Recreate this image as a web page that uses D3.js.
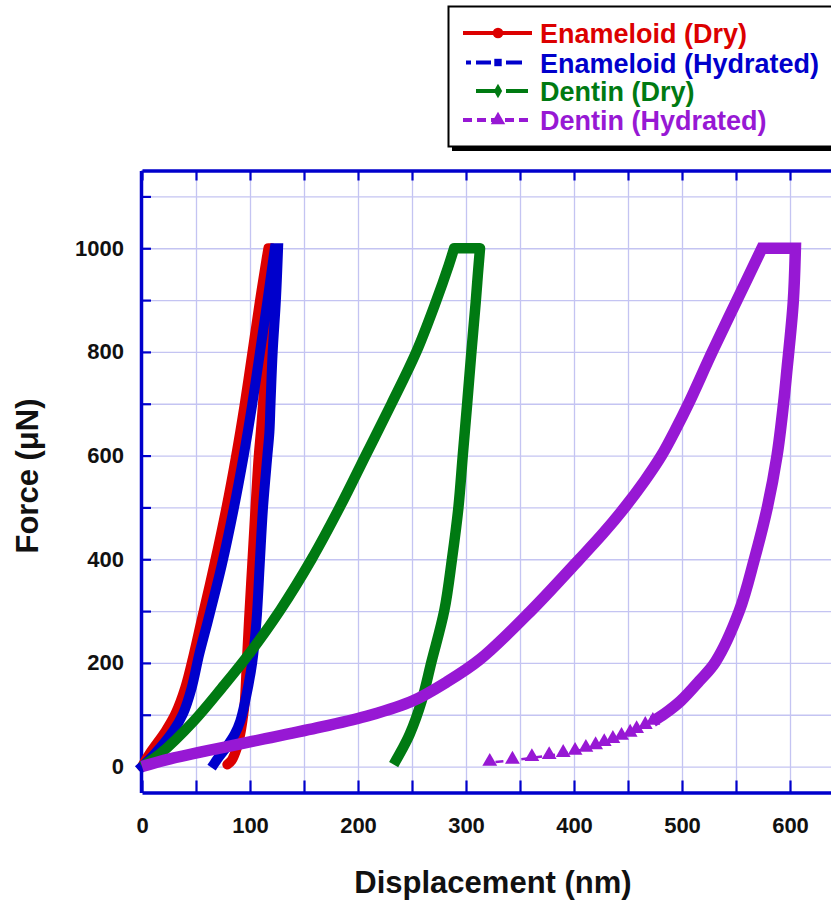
<!DOCTYPE html>
<html>
<head>
<meta charset="utf-8">
<script src="https://cdn.jsdelivr.net/npm/d3@7"></script>
<style>
  html, body { margin: 0; padding: 0; background: #ffffff; }
  svg { display: block; font-family: "Liberation Sans", Arial, sans-serif; }
</style>
</head>
<body>
<svg id="chart"></svg>
<script>
// displacement (nm), force (uN)
const enameloidDry = [
  [0, 0], [7, 25], [22, 69], [31, 102], [40, 152], [48, 217], [55, 281], [67, 390],
  [78, 498], [87, 598], [95, 698], [102, 796], [109, 896], [115, 975], [117, 1000],
  [120, 1000], [118, 900], [115, 800], [112, 700], [110, 646], [108, 598], [105, 498],
  [102, 390], [99, 281], [97, 200], [95, 121], [93, 88], [91, 63], [88, 37], [83, 12], [79, 4]
];
const enameloidHydrated = [
  [0, 0], [12, 25], [29, 69], [38, 102], [46, 152], [53, 217], [61, 281], [74, 390],
  [85, 498], [94, 598], [102, 698], [109, 796], [116, 896], [123, 1000], [126, 1000],
  [124, 900], [121, 800], [119, 700], [118, 646], [116, 598], [112, 498], [109, 390],
  [106, 281], [102, 200], [95, 121], [91, 88], [86, 63], [78, 37], [70, 15], [67, 6]
];
const dentinDry = [
  [0, 0], [17, 25], [48, 88], [74, 152], [99, 217], [128, 302], [157, 400], [183, 500],
  [207, 600], [231, 700], [254, 800], [272, 896], [284, 967], [289, 1000], [313, 1000],
  [311, 950], [309, 896], [305, 800], [301, 698], [297, 600], [293, 500], [287, 400],
  [280, 302], [268, 202], [259, 127], [248, 63], [240, 30], [233, 4]
];
const dentinHydrated = [
  [0, 0], [26, 15], [103, 49], [165, 76], [211, 99], [251, 127], [282, 163], [313, 207],
  [359, 298], [405, 400], [427, 450], [447, 500], [465, 550], [481, 600], [494, 650],
  [506, 700], [528, 800], [551, 900], [574, 1000], [605, 1000], [603, 896], [597, 762],
  [594, 700], [588, 600], [579, 500], [567, 400], [553, 300], [531, 202], [516, 165],
  [499, 127], [484, 102], [473, 87]
];
// sparse end of the hydrated dentin unloading, drawn as separate triangles
const dentinHydratedTail = [
  [473, 87], [466, 79], [458, 71], [452, 64], [444, 58], [436, 52], [428, 46], [420, 40],
  [411, 35], [401, 29], [390, 25], [377, 21], [361, 17], [343, 12], [322, 8]
];

const seriesNames = ["Enameloid (Dry)", "Enameloid (Hydrated)", "Dentin (Dry)", "Dentin (Hydrated)"];
const seriesColors = ["#dc0000", "#0000cc", "#007a12", "#9718d4"];

const xTicks = d3.range(0, 651, 50);
const yTicks = d3.range(0, 1101, 100);

const width = 831;
const height = 901;

const axisColor = "#0000cc";
const gridColor = "#c4c4f2";
const textColor = "#111111";

const svg = d3.select("#chart")
  .attr("width", width)
  .attr("height", height)
  .attr("viewBox", `0 0 ${width} ${height}`);

const x = d3.scaleLinear().domain([0, 650]).range([142, 844]);
const y = d3.scaleLinear().domain([-50, 1150]).range([792.5, 170.5]);

const plotTop = y(1150);
const plotBottom = y(-50);
const plotLeft = x(0);

// grid
svg.append("g")
  .attr("transform", `translate(0,${plotBottom})`)
  .call(d3.axisBottom(x).tickValues(xTicks.filter((d) => d > 0)).tickSize(-(plotBottom - plotTop)).tickFormat(""))
  .call((g) => g.select(".domain").remove())
  .call((g) => g.selectAll("line").attr("stroke", gridColor).attr("stroke-width", 1.3));

svg.append("g")
  .attr("transform", `translate(${plotLeft},0)`)
  .call(d3.axisLeft(y).tickValues(yTicks).tickSize(-(width - plotLeft + 20)).tickFormat(""))
  .call((g) => g.select(".domain").remove())
  .call((g) => g.selectAll("line").attr("stroke", gridColor).attr("stroke-width", 1.3));

// frame + ticks
const styleAxis = (g) => {
  g.select(".domain").attr("stroke", axisColor).attr("stroke-width", 3.5);
  g.selectAll(".tick line").attr("stroke", axisColor).attr("stroke-width", 2.2);
  g.selectAll("text")
    .attr("fill", textColor)
    .style("font-size", "22px")
    .style("font-weight", "bold");
};

svg.append("g")
  .attr("transform", `translate(0,${plotBottom})`)
  .call(d3.axisBottom(x).tickValues(xTicks).tickSize(-12).tickSizeOuter(0).tickPadding(25)
    .tickFormat((d) => (d % 100 === 0 ? d : "")))
  .call(styleAxis);

svg.append("g")
  .attr("transform", `translate(0,${plotTop})`)
  .call(d3.axisTop(x).tickValues(xTicks).tickSize(-10).tickSizeOuter(0).tickFormat(""))
  .call(styleAxis);

svg.append("g")
  .attr("transform", `translate(${plotLeft - 1},0)`)
  .call(d3.axisLeft(y).tickValues(yTicks).tickSize(-10).tickSizeOuter(0).tickPadding(17)
    .tickFormat((d) => (d % 200 === 0 ? d : "")))
  .call(styleAxis);

// curves: loading and unloading smoothed, the hold at peak force kept straight
const smooth = d3.line()
  .x((d) => x(d[0]))
  .y((d) => y(d[1]))
  .curve(d3.curveCatmullRom.alpha(0.5));

const straight = d3.line()
  .x((d) => x(d[0]))
  .y((d) => y(d[1]));

const curvePath = (data) => {
  const peak = d3.max(data, (d) => d[1]);
  const first = data.findIndex((d) => d[1] === peak);
  const last = data.length - 1 - [...data].reverse().findIndex((d) => d[1] === peak);
  const dropMove = (s) => s.replace(/^M[^A-Za-z]*/, "");
  return smooth(data.slice(0, first + 1))
    + dropMove(straight(data.slice(first, last + 1)))
    + dropMove(smooth(data.slice(last)));
};

const curves = [
  { data: enameloidDry, width: 10, cap: "round", join: "round" },
  { data: enameloidHydrated, width: 10, cap: "square", join: "miter" },
  { data: dentinDry, width: 10.5, cap: "butt", join: "round" },
  { data: dentinHydrated, width: 11.5, cap: "butt", join: "miter" }
];

curves.forEach((c, i) => {
  svg.append("path")
    .attr("d", curvePath(c.data))
    .attr("fill", "none")
    .attr("stroke", seriesColors[i])
    .attr("stroke-width", c.width)
    .attr("stroke-linecap", c.cap)
    .attr("stroke-linejoin", c.join);
});

// tail of the hydrated dentin curve
svg.append("path")
  .datum(dentinHydratedTail)
  .attr("d", straight)
  .attr("fill", "none")
  .attr("stroke", seriesColors[3])
  .attr("stroke-width", 2.5)
  .attr("stroke-dasharray", "8,5");

svg.selectAll(".tail-mark")
  .data(dentinHydratedTail)
  .enter()
  .append("path")
  .attr("class", "tail-mark")
  .attr("d", d3.symbol(d3.symbolTriangle).size(95))
  .attr("transform", (d) => `translate(${x(d[0])},${y(d[1]) - 1})`)
  .attr("fill", seriesColors[3]);

// axis titles
svg.append("text")
  .attr("x", 493)
  .attr("y", 893)
  .attr("text-anchor", "middle")
  .attr("fill", textColor)
  .style("font-size", "31px")
  .style("font-weight", "bold")
  .text("Displacement (nm)");

svg.append("text")
  .attr("transform", "translate(38,476) rotate(-90)")
  .attr("text-anchor", "middle")
  .attr("fill", textColor)
  .style("font-size", "31px")
  .style("font-weight", "bold")
  .text("Force (μN)");

// legend
const legend = svg.append("g");

legend.append("rect")
  .attr("x", 452).attr("y", 11)
  .attr("width", 420).attr("height", 140)
  .attr("fill", "#000000");

legend.append("rect")
  .attr("x", 448.5).attr("y", 6.5)
  .attr("width", 420).attr("height", 140)
  .attr("fill", "#ffffff")
  .attr("stroke", "#000000")
  .attr("stroke-width", 2);

const legendRows = [43, 72.5, 101, 130];
const legendLine = [
  { x1: 463, x2: 532, dash: null },
  { x1: 466, x2: 523, dash: "5,5,15,15,16" },
  { x1: 476, x2: 528, dash: "22,8" },
  { x1: 463, x2: 530, dash: "9,5" }
];
const legendSymbols = [d3.symbolCircle, d3.symbolSquare, d3.symbolDiamond, d3.symbolTriangle];
const legendSymbolSize = [90, 55, 60, 90];

seriesNames.forEach((name, i) => {
  const cy = legendRows[i] - 10;

  legend.append("line")
    .attr("x1", legendLine[i].x1).attr("x2", legendLine[i].x2)
    .attr("y1", cy).attr("y2", cy)
    .attr("stroke", seriesColors[i])
    .attr("stroke-width", 4)
    .attr("stroke-dasharray", legendLine[i].dash);

  legend.append("path")
    .attr("d", d3.symbol(legendSymbols[i]).size(legendSymbolSize[i]))
    .attr("transform", `translate(498,${cy})`)
    .attr("fill", seriesColors[i]);

  legend.append("text")
    .attr("x", 540)
    .attr("y", legendRows[i])
    .attr("fill", seriesColors[i])
    .style("font-size", "27px")
    .style("font-weight", "bold")
    .text(name);
});
</script>
</body>
</html>
